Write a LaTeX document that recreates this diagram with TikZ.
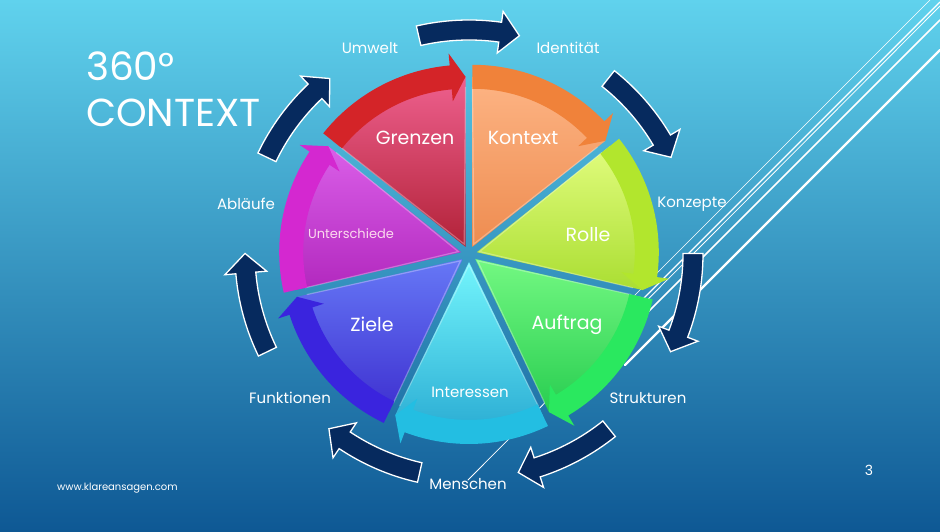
\documentclass[tikz,border=0pt]{standalone}
\usepackage{fontspec}
\setmainfont{Poppins}
\definecolor{navy}{RGB}{6,42,94}
\definecolor{bgtop}{RGB}{96,210,237}
\definecolor{bgbot}{RGB}{14,88,148}
\definecolor{kontB}{RGB}{240,130,58}
\definecolor{kontT}{RGB}{253,180,132}
\definecolor{kontD}{RGB}{238,140,80}
\definecolor{rolleB}{RGB}{178,230,45}
\definecolor{rolleT}{RGB}{225,252,125}
\definecolor{rolleD}{RGB}{170,222,50}
\definecolor{auftB}{RGB}{42,232,95}
\definecolor{auftT}{RGB}{115,248,130}
\definecolor{auftD}{RGB}{40,205,80}
\definecolor{intB}{RGB}{35,190,226}
\definecolor{intT}{RGB}{115,245,252}
\definecolor{intD}{RGB}{40,170,210}
\definecolor{zielB}{RGB}{58,36,222}
\definecolor{zielT}{RGB}{102,120,246}
\definecolor{zielD}{RGB}{62,48,208}
\definecolor{untB}{RGB}{212,40,208}
\definecolor{untT}{RGB}{218,95,232}
\definecolor{untD}{RGB}{178,40,190}
\definecolor{grenB}{RGB}{212,36,40}
\definecolor{grenT}{RGB}{238,96,142}
\definecolor{grenD}{RGB}{178,34,56}
\tikzset{
  seglabel/.style={text=white, font=\fontsize{19}{19}\selectfont},
  ringlabel/.style={text=white, font=\fontsize{15}{15}\selectfont},
  ringarrow/.style={fill=navy, draw=white, line width=1.3pt},
  streak/.style={draw=white, line cap=round},
  titletext/.style={anchor=west, inner sep=0pt, text=white, font=\fontsize{39}{39}\selectfont},
}
\begin{document}
\begin{tikzpicture}[x=1pt,y=1pt]
\useasboundingbox (0,0) rectangle (940,532);
\shade[top color=bgtop, bottom color=bgbot] (0,0) rectangle (940,532);

% streaks top right
\draw[streak, line width=0.7pt] (930,532) -- (560,162);
\draw[streak, line width=1.2pt] (940,530) -- (580,170);
\draw[streak, line width=0.8pt] (940,526) -- (468,52);
\draw[streak, line width=1.5pt] (940,512) -- (600,172);
\draw[streak, line width=2.2pt] (940,482) -- (625,167);

\foreach \k/\band/\lt/\lb in {0/kontB/kontT/kontD, 1/rolleB/rolleT/rolleD, 2/auftB/auftT/auftD, 3/intB/intT/intD, 4/zielB/zielT/zielD, 5/untB/untT/untD, 6/grenB/grenT/grenD} {
  \pgfmathsetmacro\bs{90-\k*360/7}
  \pgfmathsetmacro\be{\bs-360/7}
  \pgfmathsetmacro\bm{\bs-180/7}
  \begin{scope}[shift={(469,278)}, shift={(\bm:8)}]
    \shade[top color=\lt, bottom color=\lb] (0,0) -- (\bs:170) arc[start angle=\bs, end angle=\be, radius=170] -- cycle;
    \draw[white, opacity=0.3, line width=1.2pt] (\bs:160) -- (\bm:3) -- (\be:160);
    \fill[\band] (\bs:158) -- (\bs:182) arc[start angle=\bs, end angle=\be+5, radius=182] -- (\be+5:194) -- (\be:170) -- (\be+5:146) -- (\be+5:158) arc[start angle=\be+5, end angle=\bs, radius=158] -- cycle;
  \end{scope}
  % navy arrow on the boundary
  \draw[ringarrow, shift={(469,278)}] (\bs+13:214) arc[start angle=\bs+13, end angle=\bs-8, radius=214] -- (\bs-8:203) -- (\bs-13:224) -- (\bs-8:245) -- (\bs-8:234) arc[start angle=\bs-8, end angle=\bs+13, radius=234] -- cycle;
}

\node[seglabel] (grenzen) at (415,394) {Grenzen};
\node[seglabel] (kontext) at (523,394) {Kontext};
\node[seglabel] (rolle) at (588,297) {Rolle};
\node[seglabel] (auftrag) at (567,207) {Auftrag};
\node[seglabel, font=\fontsize{15}{15}\selectfont] (interessen) at (470,140) {Interessen};
\node[seglabel, font=\fontsize{19}{19}\selectfont] (ziele) at (372,208) {Ziele};
\node[seglabel, text=white!85!magenta, font=\fontsize{13}{13}\selectfont] (unterschiede) at (351,298) {Unterschiede};

\node[ringlabel] (umwelt) at (370,484) {Umwelt};
\node[ringlabel] (identitaet) at (568,484) {Identität};
\node[ringlabel] (konzepte) at (692,328) {Konzepte};
\node[ringlabel] (strukturen) at (648,134) {Strukturen};
\node[ringlabel] (menschen) at (468,48) {Menschen};
\node[ringlabel] (funktionen) at (290,134) {Funktionen};
\node[ringlabel] (ablaeufe) at (246,328) {Abläufe};

\node[titletext] (grad) at (86,466) {360°};
\node[titletext] (context) at (86,419) {CONTEXT};
\node[anchor=west, inner sep=0pt, text=white, font=\fontsize{10}{10}\selectfont] (web) at (57,44) {www.klareansagen.com};
\node[text=white, font=\fontsize{14}{14}\selectfont] (seite) at (869,62) {3};
\end{tikzpicture}
\end{document}
